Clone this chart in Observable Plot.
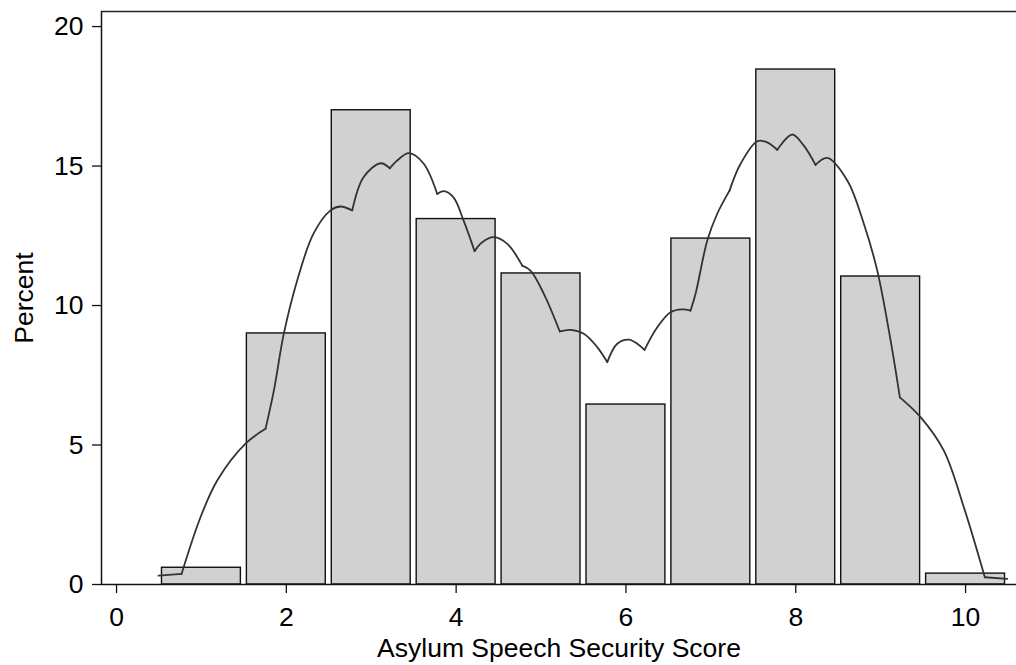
<!DOCTYPE html>
<html>
<head>
<meta charset="utf-8">
<script src="https://cdn.jsdelivr.net/npm/d3@7"></script>
<script src="https://cdn.jsdelivr.net/npm/@observablehq/plot@0.6"></script>
<style>
  html, body { margin: 0; padding: 0; background: #fff; }
  #chart { width: 1016px; height: 665px; }
</style>
</head>
<body>
<div id="chart"></div>
<script>
// Histogram categories (scores) and percents
const scores = [1, 2, 3, 4, 5, 6, 7, 8, 9, 10];
const percents = [0.6, 9.0, 17.0, 13.1, 11.15, 6.45, 12.4, 18.46, 11.04, 0.39];

// Density overlay
const kdX = [0.495, 0.766, 0.989, 1.186, 1.519, 1.755, 1.853, 1.971, 2.128, 2.320, 2.521, 2.638, 2.776,
  2.909, 3.110, 3.219, 3.306, 3.443, 3.616, 3.777, 3.852, 3.969, 4.087, 4.217, 4.307, 4.444, 4.602,
  4.779, 4.876, 5.033, 5.221, 5.347, 5.504, 5.662, 5.780, 5.897, 6.034, 6.133, 6.219, 6.369, 6.525,
  6.663, 6.761, 6.820, 6.958, 7.075, 7.220, 7.350, 7.547, 7.664, 7.782, 7.959, 8.095, 8.233, 8.371,
  8.607, 8.802, 8.960, 9.117, 9.226, 9.470, 9.744, 9.980, 10.227, 10.491];
const kdY = [0.32, 0.38, 2.41, 3.73, 5.05, 5.58, 6.95, 9.00, 10.90, 12.58, 13.41, 13.55, 13.41,
  14.60, 15.10, 14.92, 15.20, 15.46, 15.09, 14.00, 14.10, 13.88, 13.05, 11.95, 12.27, 12.45, 12.21,
  11.43, 11.25, 10.42, 9.07, 9.13, 8.99, 8.51, 7.97, 8.63, 8.78, 8.63, 8.41, 9.22, 9.76,
  9.86, 9.82, 10.42, 12.33, 13.29, 14.12, 15.08, 15.89, 15.85, 15.58, 16.13, 15.73, 15.04, 15.29,
  14.48, 12.93, 11.25, 8.75, 6.71, 6.00, 4.80, 2.77, 0.26, 0.20];
// Indices in kdX where the density curve has a kink (sharp corner)
const kinks = [1, 5, 12, 15, 19, 23, 27, 30, 34, 38, 42, 46, 50, 53, 59, 63];

// Axis tick values
const xTicks = [0, 2, 4, 6, 8, 10];
const yTicks = [0, 5, 10, 15, 20];
const xDomain = [-0.177, 10.6];
const yDomain = [0, 20.54];
const xTitle = "Asylum Speech Security Score";
const yTitle = "Percent";

const bars = scores.map((s, i) => ({score: s, pct: percents[i]}));
// Split the curve at kinks into smooth pieces (kink points shared by both neighbours)
const kd = [];
let seg = 0;
kdX.forEach((x, i) => {
  kd.push({x, y: kdY[i], seg});
  if (kinks.includes(i)) { seg++; kd.push({x, y: kdY[i], seg}); }
});

const font = "'Liberation Sans', Arial, Helvetica, sans-serif";
const fs = 26.5;

const chart = Plot.plot({
  width: 1016,
  height: 665,
  marginLeft: 101,
  marginRight: 0,
  marginTop: 11,
  marginBottom: 81,
  style: {fontFamily: font, fontSize: fs + "px", background: "white", color: "black", overflow: "visible"},
  x: {domain: xDomain, label: null},
  y: {domain: yDomain, label: null},
  marks: [
    Plot.rectY(bars, {
      x1: d => d.score - 0.5,
      x2: d => d.score + 0.5,
      y: "pct",
      insetLeft: 3,
      insetRight: 3,
      fill: "#d1d1d1",
      stroke: "#111",
      strokeWidth: 1.4
    }),
    Plot.line(kd, {x: "x", y: "y", z: "seg", stroke: "#333", strokeWidth: 1.8, curve: "catmull-rom"}),
    Plot.ruleY([yDomain[1]], {stroke: "#222", strokeWidth: 1.5}),
    Plot.ruleX([xDomain[0]], {stroke: "#111", strokeWidth: 1.5}),
    Plot.ruleY([yDomain[0]], {stroke: "#111", strokeWidth: 1.5}),
    Plot.axisX({ticks: xTicks, tickSize: 9, tickPadding: 14, fontSize: fs, label: null, stroke: "#111", strokeWidth: 1.3}),
    Plot.axisY({ticks: yTicks, tickSize: 9, tickPadding: 9, fontSize: fs, label: null, stroke: "#111", strokeWidth: 1.3}),
    Plot.text([xTitle], {frameAnchor: "bottom", dy: 72, lineAnchor: "bottom", textAnchor: "middle", fontSize: fs, text: d => d, fill: "black"}),
    Plot.text([yTitle], {frameAnchor: "left", dx: -69, rotate: -90, lineAnchor: "bottom", textAnchor: "middle", fontSize: fs, text: d => d, fill: "black"})
  ]
});

document.getElementById("chart").appendChild(chart);
</script>
</body>
</html>
